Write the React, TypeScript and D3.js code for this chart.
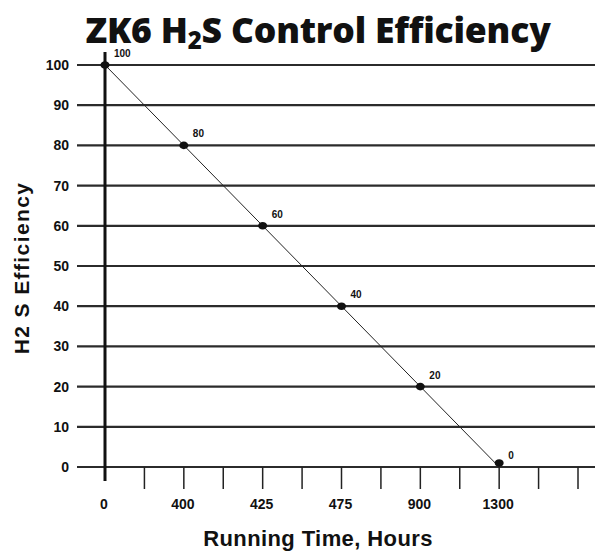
import React from "react";
import * as d3 from "d3";

const W = 595;
const H = 555;

// x-axis tick slots (categorical), label shown only on some
const xSlots = ["0", "s1", "400", "s3", "425", "s5", "475", "s7", "900", "s9", "1300", "s11", "s12"];
const xLabels = ["0", "", "400", "", "425", "", "475", "", "900", "", "1300", "", ""];
const yTicks = [0, 10, 20, 30, 40, 50, 60, 70, 80, 90, 100];
const hours = ["0", "400", "425", "475", "900", "1300"];
const efficiency = [100, 80, 60, 40, 20, 0];

export default function App() {
  const x = d3.scalePoint<string>().domain(xSlots).range([105, 578]);
  const y = d3.scaleLinear().domain([0, 100]).range([467, 65]);
  const line = d3
    .line<number>()
    .x((_, i) => x(hours[i]) as number)
    .y((d) => y(d));
  const font = "Liberation Sans, Arial, sans-serif";
  return (
    <svg
      width={W}
      height={H}
      style={{ position: "absolute", left: 0, top: 0, background: "#fff" }}
      fontFamily={font}
    >
      <text x={318} y={43} textAnchor="middle" fontFamily="Open Sans, sans-serif" fontWeight={800} fontSize={35.5} fill="#111" letterSpacing={-0.2}>
        ZK6 H
        <tspan fontSize={24} dy={6}>2</tspan>
        <tspan dy={-6}>S Control Efficiency</tspan>
      </text>
      {yTicks.map((t) => (
        <g key={t}>
          <line x1={77} x2={W} y1={y(t)} y2={y(t)} stroke="#2b2b2b" strokeWidth={2.2} />
          <text x={69} y={y(t) + 5} textAnchor="end" fontWeight="bold" fontSize={14} fill="#111">
            {t}
          </text>
        </g>
      ))}
      <line x1={105} x2={105} y1={52} y2={481} stroke="#111" strokeWidth={3} />
      {xSlots.map((s, i) =>
        i === 0 ? null : (
          <line key={s} x1={x(s)} x2={x(s)} y1={467} y2={489} stroke="#222" strokeWidth={1.5} />
        )
      )}
      {xSlots.map((s, i) =>
        xLabels[i] ? (
          <text key={s} x={(x(s) as number) - 1} y={509} textAnchor="middle" fontWeight="bold" fontSize={14} fill="#111">
            {xLabels[i]}
          </text>
        ) : null
      )}
      <path d={line(efficiency) || ""} fill="none" stroke="#222" strokeWidth={1} />
      {efficiency.map((v, i) => (
        <g key={i}>
          <ellipse cx={x(hours[i])} cy={y(v) - (v === 0 ? 4 : 0)} rx={4.5} ry={3.8} fill="#111" />
          <text x={(x(hours[i]) as number) + 9} y={y(v) - 8} fontWeight="bold" fontSize={10} fill="#111">
            {v}
          </text>
        </g>
      ))}
      <text
        transform="translate(29,268) rotate(-90)"
        textAnchor="middle"
        fontWeight="bold"
        fontSize={21}
        letterSpacing={1.4}
        fill="#111"
      >
        H2 S Efficiency
      </text>
      <text x={318} y={546} textAnchor="middle" fontWeight="bold" fontSize={22} letterSpacing={0.4} fill="#111">
        Running Time, Hours
      </text>
    </svg>
  );
}
